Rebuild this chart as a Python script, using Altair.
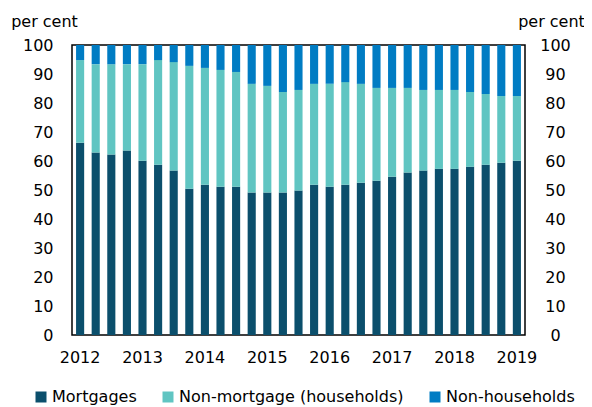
import altair as alt
import pandas as pd

periods = [f"{y} Q{q}" for y in range(2012, 2019) for q in range(1, 5)] + ["2019 Q1"]
mortgages = [66.3, 62.9, 62.2, 63.6, 60.1, 58.7, 56.7, 50.4, 51.8, 51.1,
             51.1, 49.1, 49.1, 49.1, 49.8, 51.8, 51.1, 51.8, 52.5, 53.2,
             54.6, 56.0, 56.7, 57.3, 57.3, 58.0, 58.7, 59.4, 60.1]
non_mortgage = [28.5, 30.5, 31.2, 29.8, 33.3, 36.1, 37.4, 42.4, 40.3, 40.3,
                39.6, 37.5, 36.8, 34.7, 34.7, 34.8, 35.5, 35.4, 34.1, 32.0,
                30.6, 29.2, 27.8, 27.2, 27.2, 25.8, 24.4, 23.0, 22.3]
non_households = [5.2, 6.6, 6.6, 6.6, 6.6, 5.2, 5.9, 7.2, 7.9, 8.6,
                  9.3, 13.4, 14.1, 16.2, 15.5, 13.4, 13.4, 12.8, 13.4, 14.8,
                  14.8, 14.8, 15.5, 15.5, 15.5, 16.2, 16.9, 17.6, 17.6]
series = ["Mortgages", "Non-mortgage (households)", "Non-households"]
colors = ["#0B4F6C", "#60C5C2", "#007CC3"]
year_ticks = [p for p in periods if p.endswith("Q1")]

rows = []
for i, p in enumerate(periods):
    for k, (name, vals) in enumerate(zip(series, [mortgages, non_mortgage, non_households])):
        rows.append({"period": p, "series": name, "value": vals[i], "order": k})
df = pd.DataFrame(rows)


def xenc():
    return alt.X("period:N", sort=periods,
                 scale=alt.Scale(paddingInner=0.48, paddingOuter=0.26),
                 axis=alt.Axis(title=None, values=year_ticks,
                               labelExpr="substring(datum.value, 0, 4)",
                               labelAngle=0, ticks=False, tickSize=0, domain=False,
                               labelPadding=14, labelFontSize=16, labelColor="#000"))


def yaxis(orient, title_x, pad, align):
    return alt.Axis(orient=orient, title="per cent", titleAngle=0, titleX=title_x, titleY=-19,
                    titleAlign="center", titleBaseline="alphabetic",
                    titleFontSize=16, titleFontWeight="normal", titleColor="#000",
                    values=list(range(0, 101, 10)), ticks=False, tickSize=0,
                    domain=False, grid=False, labelPadding=pad, labelAlign=align,
                    labelFontSize=16, labelColor="#000")


bars = alt.Chart(df).mark_bar().encode(
    x=xenc(),
    y=alt.Y("value:Q", stack="zero", scale=alt.Scale(domain=[0, 100], nice=False),
            axis=yaxis("left", -28, 19, "right")),
    color=alt.Color("series:N", scale=alt.Scale(domain=series, range=colors),
                    legend=alt.Legend(title=None, orient="none", direction="horizontal",
                                      legendX=-39, legendY=344, symbolType="square",
                                      symbolSize=121, symbolStrokeWidth=0,
                                      labelFontSize=16, labelColor="#000", labelLimit=400,
                                      columnPadding=23, labelOffset=3, padding=0)),
    order=alt.Order("order:Q"),
)

right = alt.Chart(df).mark_bar(opacity=0).encode(
    x=xenc(),
    y=alt.Y("value:Q", stack="zero", scale=alt.Scale(domain=[0, 100], nice=False),
            axis=yaxis("right", 26, 30, "center")),
)

chart = alt.layer(bars, right).resolve_scale(y="independent").properties(
    width=453, height=290,
    autosize=alt.AutoSizeParams(type="none"),
    padding={"left": 64, "top": 37, "right": 59, "bottom": 70},
).configure(font="DejaVu Sans").configure_view(stroke="#000", strokeWidth=1.5)

chart.save("out.html", embed_options={"renderer": "svg", "actions": False})
